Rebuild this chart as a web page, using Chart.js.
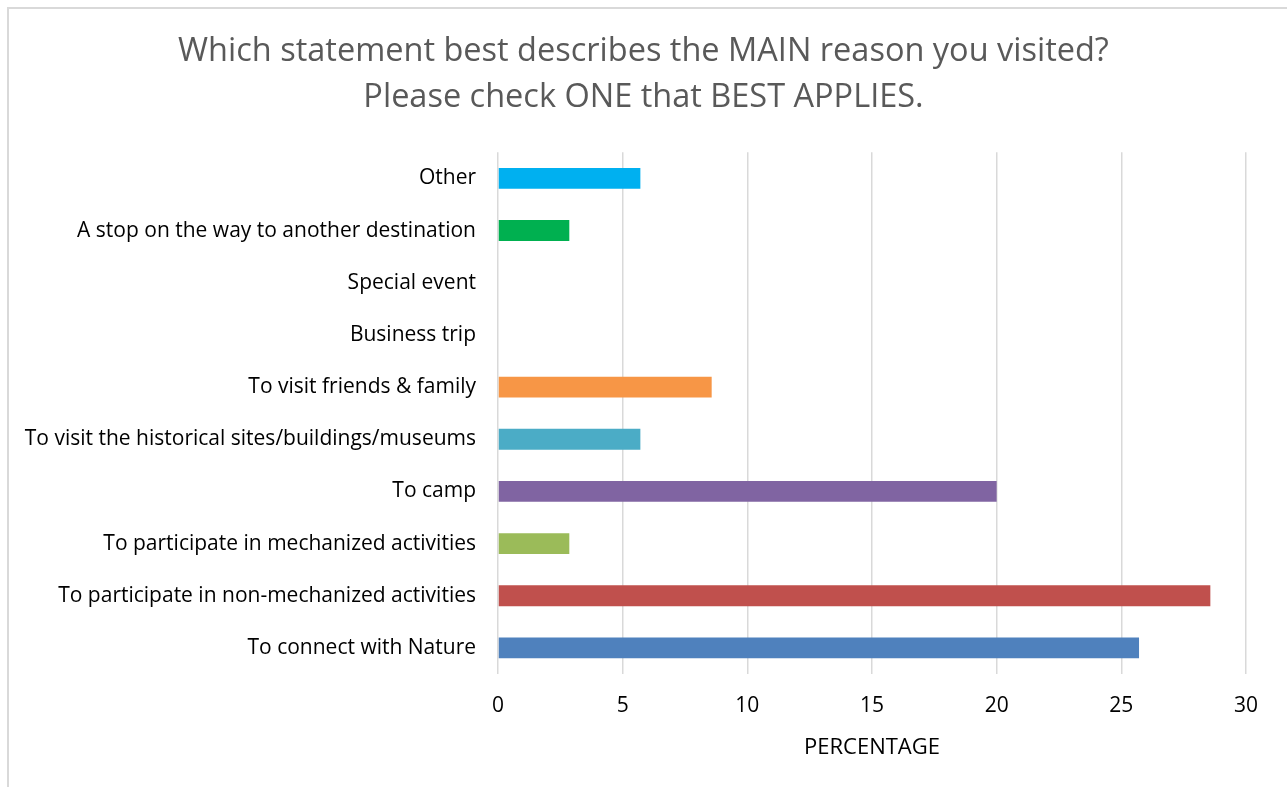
<!DOCTYPE html>
<html>
<head>
<meta charset="utf-8">
<script src="https://cdn.jsdelivr.net/npm/chart.js@4/dist/chart.umd.min.js"></script>
<style>
  html, body { margin: 0; padding: 0; background: #fff; }
  #frame { position: absolute; left: 7px; top: 7px; width: 1300px; height: 800px;
           border-left: 2px solid #d9d9d9; border-top: 2px solid #d9d9d9; box-sizing: border-box; }
  #wrap { position: absolute; left: 0; top: 0; width: 1287px; height: 787px; }
</style>
</head>
<body>
<div id="frame"></div>
<div id="wrap"><canvas id="chart" width="1287" height="787"></canvas></div>
<script>
const categories = [
  "Other",
  "A stop on the way to another destination",
  "Special event",
  "Business trip",
  "To visit friends & family",
  "To visit the historical sites/buildings/museums",
  "To camp",
  "To participate in mechanized activities",
  "To participate in non-mechanized activities",
  "To connect with Nature"
];
const percentages = [5.71, 2.86, 0, 0, 8.57, 5.71, 20.0, 2.86, 28.57, 25.71];
const barColors = ["#00B0F0", "#00B050", "#7F7F7F", "#7F7F7F", "#F79646", "#4BACC6",
                   "#8064A2", "#9BBB59", "#C0504D", "#4F81BD"];
const titleLines = ["Which statement best describes the MAIN reason you visited?",
                    "Please check ONE that BEST APPLIES."];
const axisTitle = "PERCENTAGE";
const xMax = 30, xStep = 5;

const FONT = "'Open Sans', 'Liberation Sans', sans-serif";

new Chart(document.getElementById('chart'), {
  type: 'bar',
  data: {
    labels: categories,
    datasets: [{
      data: percentages,
      backgroundColor: barColors,
      borderWidth: 0,
      categoryPercentage: 1.0,
      barPercentage: 0.4
    }]
  },
  options: {
    indexAxis: 'y',
    responsive: false,
    animation: false,
    layout: { padding: { left: 0, right: 0, top: 0, bottom: 26 } },
    plugins: {
      legend: { display: false },
      tooltip: { enabled: false },
      title: {
        display: true,
        text: titleLines,
        color: '#595959',
        font: { family: FONT, size: 32.5, weight: 'normal', lineHeight: 1.42 },
        padding: { top: 29, bottom: 31 }
      }
    },
    scales: {
      x: {
        min: 0, max: xMax,
        ticks: { stepSize: xStep, color: '#000', font: { family: FONT, size: 21 }, padding: 19 },
        grid: { color: '#d9d9d9', lineWidth: 1.5, drawTicks: false },
        border: { display: false },
        title: { display: true, text: axisTitle, color: '#000',
                 font: { family: FONT, size: 22 }, padding: { top: 10, bottom: 0 } },
        afterFit: (s) => { s.height = 87; }
      },
      y: {
        ticks: { color: '#000', font: { family: FONT, size: 21 }, padding: 22 },
        grid: { display: false, drawTicks: false },
        border: { display: false },
        afterFit: (s) => { s.width = 498; }
      },
      // empty right-hand margin so the plot ends at 30 with room for its tick label
      yRight: {
        type: 'category',
        position: 'right',
        ticks: { display: false },
        grid: { display: false, drawTicks: false },
        border: { display: false },
        afterFit: (s) => { s.width = 41; }
      }
    }
  }
});
</script>
</body>
</html>
